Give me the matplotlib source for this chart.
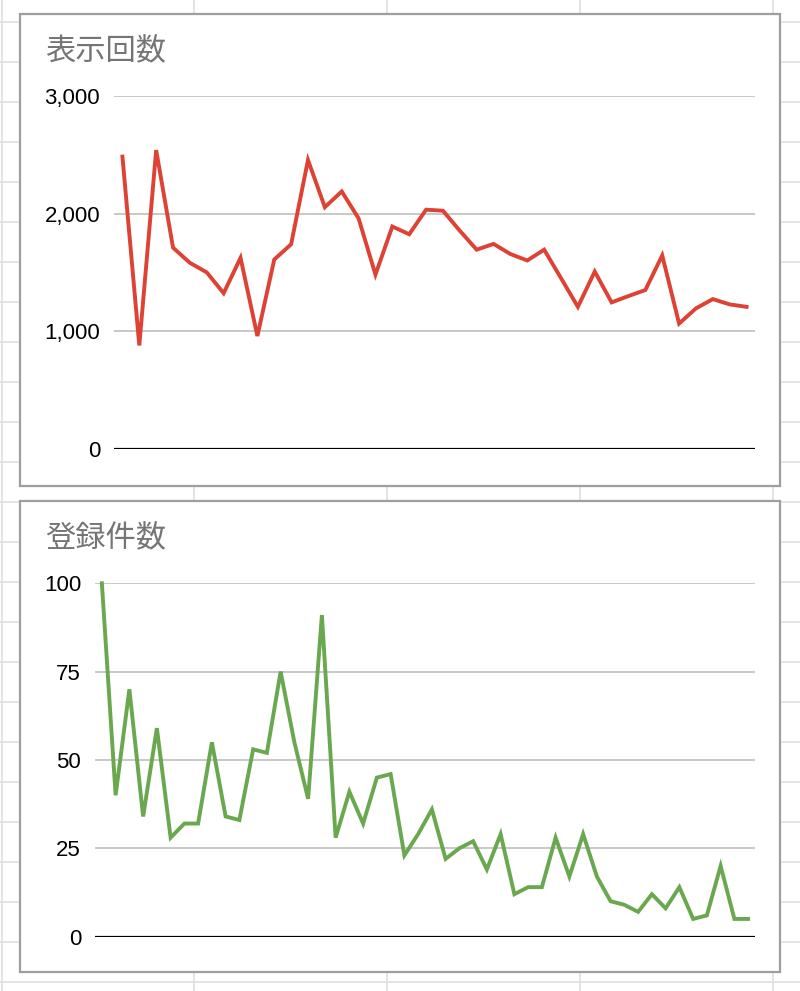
import matplotlib
matplotlib.use("Agg")
import matplotlib.pyplot as plt
from matplotlib.patches import Rectangle
from matplotlib.ticker import FuncFormatter

# ---- data ----
impressions_title = "表示回数"
impressions = [2485, 880, 2540, 1711, 1582, 1501, 1324, 1625, 960, 1610,
               1740, 2456, 2055, 2189, 1960, 1482, 1891, 1825, 2034, 2025,
               1855, 1694, 1743, 1657, 1602, 1694, 1452, 1208, 1508, 1246,
               1300, 1351, 1645, 1066, 1195, 1274, 1229, 1208]
impressions_ticks = [0, 1000, 2000, 3000]

signups_title = "登録件数"
signups = [100, 40, 70, 34, 59, 28, 32, 32, 55, 34, 33, 53, 52, 75, 55, 39,
           91, 28, 41, 32, 45, 46, 23, 29, 36, 22, 25, 27, 19, 29, 12, 14,
           14, 28, 17, 29, 17, 10, 9, 7, 12, 8, 14, 5, 6, 20, 5, 5]
signups_ticks = [0, 25, 50, 75, 100]

W, H = 800, 991
fig = plt.figure(figsize=(W / 100, H / 100), dpi=100)
fig.patch.set_facecolor("white")

# background spreadsheet grid + cards
bg = fig.add_axes([0, 0, 1, 1])
bg.set_xlim(0, W)
bg.set_ylim(H, 0)
bg.axis("off")
for x in [2, 194, 387, 580, 773]:
    bg.plot([x, x], [0, H], color="#e2e2e2", lw=1.3, zorder=0)
for y in range(22, H, 40):
    bg.plot([0, W], [y, y], color="#e2e2e2", lw=1.3, zorder=0)

cards = [(20, 14, 760, 472), (20, 501, 760, 471)]
for (cx, cy, cw, ch) in cards:
    bg.add_patch(Rectangle((cx, cy), cw, ch, facecolor="white",
                           edgecolor="#9e9e9e", lw=1.6, zorder=1))


def px_axes(left, right, top, bottom):
    return fig.add_axes([left / W, 1 - bottom / H, (right - left) / W, (bottom - top) / H])


tick_font = dict(family="Liberation Sans", size=16.0, color="#000000")
title_font = dict(family=["Noto Sans CJK JP", "DejaVu Sans"], size=21.8, color="#757575")


def style(ax, values, ticks, color):
    n = len(values)
    ax.plot(range(n), values, color=color, lw=2.8, solid_joinstyle="miter",
            clip_on=False, zorder=3)
    ax.set_xlim(-0.5, n - 0.5)
    ax.set_ylim(ticks[0], ticks[-1])
    ax.set_yticks(ticks)
    ax.yaxis.set_major_formatter(FuncFormatter(lambda v, p: f"{int(v):,}"))
    for lab in ax.get_yticklabels():
        lab.set_fontfamily(tick_font["family"])
        lab.set_fontsize(tick_font["size"])
        lab.set_color(tick_font["color"])
    ax.tick_params(axis="y", length=0, pad=10)
    ax.set_xticks([])
    for s in ax.spines.values():
        s.set_visible(False)
    ax.set_facecolor("none")
    for t in ticks[1:]:
        ax.axhline(t, color="#c8c8c8", lw=1.4, zorder=1)
    ax.axhline(ticks[0], color="#000000", lw=1.6, zorder=2)


ax1 = px_axes(114, 755, 96, 449)
style(ax1, impressions, impressions_ticks, "#dd4234")
fig.text(45 / W, 1 - 51.5 / H, impressions_title, ha="left", va="center", **title_font)

ax2 = px_axes(95, 755, 583.3, 936.6)
style(ax2, signups, signups_ticks, "#6aa84f")
fig.text(45 / W, 1 - 538.5 / H, signups_title, ha="left", va="center", **title_font)

fig.savefig("out.png", dpi=100)
